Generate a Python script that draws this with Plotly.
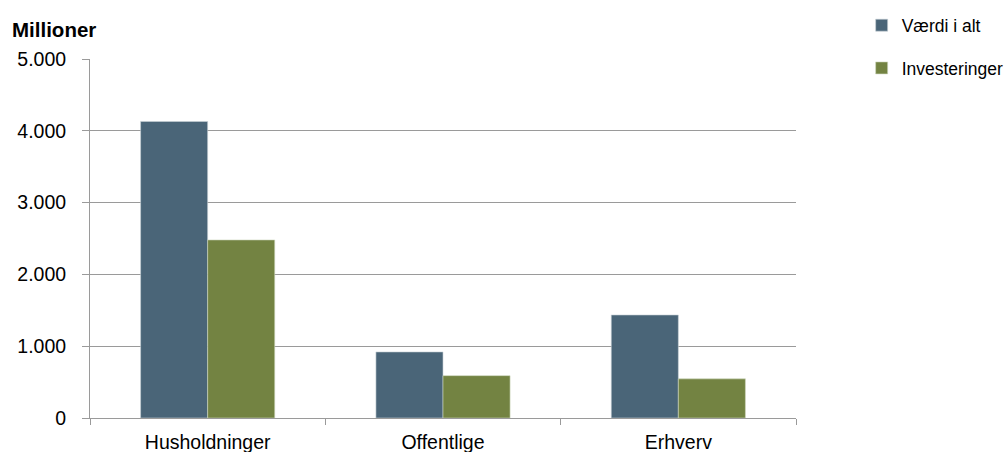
import plotly.graph_objects as go

categories = ["Husholdninger", "Offentlige", "Erhverv"]
vaerdi_i_alt = [4130, 920, 1435]
investeringer = [2480, 590, 545]
y_ticks = [0, 1000, 2000, 3000, 4000, 5000]

blue = "#4a6578"
green = "#738342"
grid = "#9a9a9a"
font = "Liberation Sans, Arial, sans-serif"

fig = go.Figure()
fig.add_trace(go.Bar(
    name="Værdi i alt", x=categories, y=vaerdi_i_alt,
    marker=dict(color=blue, line=dict(color="#c9d2d6", width=0.6)),
    legendgroup="a",
))
fig.add_trace(go.Bar(
    name="Investeringer", x=categories, y=investeringer,
    marker=dict(color=green, line=dict(color="#cfd6bf", width=0.6)),
    legendgroup="b",
))

fig.update_layout(
    width=1007, height=452,
    margin=dict(l=90, r=211, t=59, b=34, autoexpand=False),
    paper_bgcolor="white", plot_bgcolor="white",
    barmode="group", bargap=0.43, bargroupgap=0,
    separators=",.",
    font=dict(family=font, size=19, color="#000000"),
    showlegend=True,
    legend=dict(
        x=1.093, y=1.144, xanchor="left", yanchor="top",
        font=dict(size=17.5), tracegroupgap=17,
        itemwidth=30, bgcolor="rgba(0,0,0,0)",
    ),
    annotations=[dict(
        text="<b>Millioner</b>", xref="paper", yref="paper",
        x=-0.113, y=1.081, xanchor="left", yanchor="middle",
        showarrow=False, font=dict(size=20.5, family=font),
    )],
)

fig.update_xaxes(
    showline=True, linecolor=grid, linewidth=1,
    ticks="outside", tickson="boundaries", ticklen=6, tickcolor=grid,
    showgrid=False, tickfont=dict(size=19.5), ticklabelstandoff=7,
)
fig.update_yaxes(
    range=[0, 5000], tickvals=y_ticks, tickformat=",d",
    showline=True, linecolor=grid, linewidth=1,
    ticks="outside", ticklen=7, tickcolor=grid,
    showgrid=True, gridcolor=grid, gridwidth=1,
    zeroline=False, tickfont=dict(size=19.5), ticklabelstandoff=12,
)

fig.write_html("out.html")
